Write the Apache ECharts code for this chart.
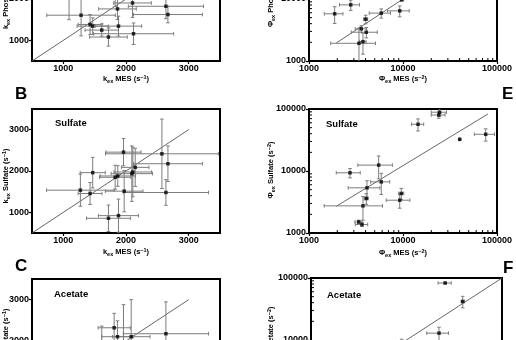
<!DOCTYPE html>
<html><head><meta charset="utf-8">
<script src="https://cdn.jsdelivr.net/npm/echarts@6/dist/echarts.min.js"></script>
<style>html,body{margin:0;padding:0;background:#fff}#c{width:516px;height:340px}</style>
</head><body><div id="c"></div>
<script>
// ---------- tick labels ----------
const linTicks = [1000, 2000, 3000];
const logTicks = [1000, 10000, 100000];
const logMinor = [2000,3000,4000,5000,6000,7000,8000,9000,20000,30000,40000,50000,60000,70000,80000,90000];

// ---------- Panel A : k_ex Phosphate vs k_ex MES ----------
const aX    = [1091, 1283, 1427, 1469, 1613, 1720, 1827, 1864, 1880, 2104, 2120, 2637, 2669];
const aY    = [2300, 1608, 1384, 1344, 1248, 1080, 2200, 1760, 1344, 1904, 1160, 1824, 1624];
const aXErr = [300, 547, 190, 250, 267, 300, 300, 300, 370, 300, 640, 600, 550];
const aYErr = [800, 500, 240, 200, 150, 220, 380, 256, 240, 350, 260, 300, 200];
const lineA = [[500, 500], [3000, 3000]];

// ---------- Panel B : Sulfate (linear) ----------
const bX    = [1272, 1427, 1469, 1827, 1869, 1960, 1971, 2093, 2109, 2147, 2573, 2669, 2637, 1720, 1880];
const bY    = [1536, 1456, 1960, 1848, 1880, 2456, 1512, 1936, 1976, 2088, 2416, 2176, 1480, 856, 920];
const bXErr = [540, 190, 200, 250, 280, 280, 300, 330, 300, 220, 900, 550, 680, 350, 320];
const bYErr = [390, 265, 370, 290, 250, 330, 500, 670, 600, 460, 840, 430, 310, 320, 400];
const lineB = [[500, 500], [3000, 3000]];

// ---------- Panel C : Acetate (linear) ----------
const cX    = [1613, 1811, 1864, 1960, 2083, 2637];
const cY    = [1800, 2320, 2104, 1750, 2104, 2176];
const cXErr = [250, 256, 250, 300, 300, 680];
const cYErr = [560, 350, 384, 1130, 896, 770];
const lineC = [[500, 500], [3000, 3000]];

// ---------- Panel D : Phi_ex Phosphate (log) ----------
const dX    = [1875, 2780, 9700, 4010, 5870, 9230, 3600, 4070, 3400, 3750];
const dY    = [5770, 8050, 9800, 4730, 5920, 6440, 3300, 2910, 1930, 2050];
const dXErr = [420, 670, 300, 200, 1500, 2400, 500, 1250, 1700, 300];
const dYErr = [1750, 1500, 600, 750, 1000, 1280, 400, 550, 1450, 760];
const lineD = [[1950, 1950], [80000, 80000]];

// ---------- Panel E : Phi_ex Sulfate (log) ----------
const eX    = [24500, 24000, 14450, 40100, 75800, 5510, 2730, 4140, 5870, 4070, 9590, 9230, 3750, 3380, 3660];
const eY    = [88700, 80000, 56700, 32400, 39100, 12450, 9350, 5350, 6680, 3600, 4340, 3380, 2740, 1510, 1370];
const eXErr = [4500, 4000, 2150, 0, 18400, 2200, 780, 1530, 1350, 200, 600, 2600, 2300, 300, 550];
const eYErr = [12000, 9000, 12500, 0, 8800, 5000, 1600, 1600, 2500, 700, 900, 870, 1130, 100, 100];
const lineE = [[1950, 2700], [80000, 83000]];

// ---------- Panel F : Phi_ex Acetate (log) ----------
const fX    = [25400, 38800, 21900, 8900];
const fY    = [83000, 41800, 12900, 8500];
const fXErr = [4000, 1500, 5600, 800];
const fYErr = [2000, 8800, 3200, 1800];
const lineF = [[2000, 2000], [100000, 100000]];

// ---------- texts ----------
const panelLetters = ['B', 'C', 'E', 'F'];
const anionNames = ['Sulfate', 'Acetate'];

const FF = 'Liberation Sans, Arial, Helvetica, sans-serif';
const panels = [
  {x:aX, y:aY, xe:aXErr, ye:aYErr, line:lineA, log:false},
  {x:bX, y:bY, xe:bXErr, ye:bYErr, line:lineB, log:false},
  {x:cX, y:cY, xe:cXErr, ye:cYErr, line:lineC, log:false},
  {x:dX, y:dY, xe:dXErr, ye:dYErr, line:lineD, log:true},
  {x:eX, y:eY, xe:eXErr, ye:eYErr, line:lineE, log:true},
  {x:fX, y:fY, xe:fXErr, ye:fYErr, line:lineF, log:true}
];
const gridPos = [
  {left:32, top:-63, width:188, height:124},
  {left:32, top:109, width:188, height:124},
  {left:32, top:279, width:188, height:124},
  {left:309, top:-63, width:188, height:124},
  {left:309, top:109, width:188, height:124},
  {left:311, top:278, width:191, height:124}
];

const labelStyle = {color:'#000', fontWeight:'bold', fontSize:9, fontFamily:FF, margin:3};
function makeAxis(gi, log) {
  const base = {
    gridIndex: gi,
    axisLine: {show:true, onZero:false, lineStyle:{color:'#000', width:2}},
    axisTick: {show:true, inside:false, length:3, lineStyle:{color:'#000', width:1.2}},
    splitLine: {show:false},
    minorTick: {show:false}
  };
  if (log) {
    return Object.assign(base, {type:'log', logBase:10, min:logTicks[0], max:logTicks[logTicks.length-1],
      axisLabel: Object.assign({formatter: v => String(Math.round(v))}, labelStyle)});
  }
  base.axisTick.customValues = linTicks;
  return Object.assign(base, {type:'value', min:500, max:3500,
    axisLabel: Object.assign({customValues: linTicks, formatter: v => String(v)}, labelStyle)});
}

function errRender(params, api) {
  const cs = params.coordSys;
  const x = api.value(0), y = api.value(1), ex = api.value(2), ey = api.value(3);
  const lo = (v, e) => (v - e > 0 ? v - e : v * 0.001);
  const p = api.coord([x, y]);
  const xl = api.coord([lo(x, ex), y]), xh = api.coord([x + ex, y]);
  const yl = api.coord([x, lo(y, ey)]), yh = api.coord([x, y + ey]);
  const cap = 1.8;
  const st = {stroke:'#7d7d7d', lineWidth:1};
  const L = (x1, y1, x2, y2) => ({type:'line', shape:{x1, y1, x2, y2}, style:st});
  return {
    type:'group',
    clipPath:{type:'rect', shape:{x:cs.x, y:cs.y, width:cs.width, height:cs.height}},
    children:[
      L(xl[0], p[1], xh[0], p[1]), L(xl[0], p[1]-cap, xl[0], p[1]+cap), L(xh[0], p[1]-cap, xh[0], p[1]+cap),
      L(p[0], yl[1], p[0], yh[1]), L(p[0]-cap, yl[1], p[0]+cap, yl[1]), L(p[0]-cap, yh[1], p[0]+cap, yh[1])
    ]
  };
}
function minorX(params, api) {
  const p = api.coord([api.value(0), api.value(1)]);
  return {type:'line', shape:{x1:p[0], y1:p[1], x2:p[0], y2:p[1]-3}, style:{stroke:'#000', lineWidth:1}};
}
function minorY(params, api) {
  const p = api.coord([api.value(0), api.value(1)]);
  return {type:'line', shape:{x1:p[0], y1:p[1], x2:p[0]+3, y2:p[1]}, style:{stroke:'#000', lineWidth:1}};
}

const grid = [], xAxis = [], yAxis = [], series = [];
panels.forEach((pn, i) => {
  grid.push(Object.assign({show:true, borderColor:'#000', borderWidth:2, backgroundColor:'transparent',
    containLabel:false, outerBoundsMode:'none'}, gridPos[i]));
  xAxis.push(makeAxis(i, pn.log));
  yAxis.push(makeAxis(i, pn.log));
  series.push({type:'line', xAxisIndex:i, yAxisIndex:i, data:pn.line, symbol:'none', silent:true,
    lineStyle:{color:'#555', width:0.9}, z:2, animation:false});
  series.push({type:'custom', xAxisIndex:i, yAxisIndex:i, renderItem:errRender, clip:true, silent:true, z:3,
    data: pn.x.map((v, k) => [v, pn.y[k], pn.xe[k], pn.ye[k]]), animation:false});
  series.push({type:'scatter', xAxisIndex:i, yAxisIndex:i, symbol:'rect', symbolSize:3.5, silent:true, z:4,
    itemStyle:{color:'#000'}, data: pn.x.map((v, k) => [v, pn.y[k]]), animation:false});
  if (pn.log) {
    series.push({type:'custom', xAxisIndex:i, yAxisIndex:i, renderItem:minorX, silent:true, z:5, animation:false,
      data: logMinor.map(v => [v, logTicks[0]])});
    series.push({type:'custom', xAxisIndex:i, yAxisIndex:i, renderItem:minorY, silent:true, z:5, animation:false,
      data: logMinor.map(v => [logTicks[0], v])});
  }
});

const rich = {
  b:{fontSize:7.5, fontWeight:'bold', fontFamily:FF, lineHeight:10, fill:'#000'},
  s:{fontSize:5.5, fontWeight:'bold', fontFamily:FF, lineHeight:5, verticalAlign:'bottom', fill:'#000'},
  p:{fontSize:5.5, fontWeight:'bold', fontFamily:FF, lineHeight:5, verticalAlign:'top', fill:'#000'}
};
function title(sym, name, pow) {
  return '{b|' + sym + '}{s|ex}{b| ' + name + ' (s}{p|\u2212' + pow + '}{b|)}';
}
function txt(x, y, text, rot) {
  return {type:'text', x, y, rotation: rot ? Math.PI/2 : 0, silent:true, z:10,
    style:{text, rich, align:'center', verticalAlign:'middle', textAlign:'center', textVerticalAlign:'middle', fill:'#000', fontSize:7.5, fontWeight:'bold', fontFamily:FF}};
}
function big(x, y, t) {
  return {type:'text', x, y, silent:true, z:10,
    style:{text:t, align:'left', verticalAlign:'middle', fill:'#000', fontSize:17, fontWeight:'bold', fontFamily:FF}};
}
function inner(x, y, t) {
  return {type:'text', x, y, silent:true, z:10,
    style:{text:t, align:'left', verticalAlign:'middle', fill:'#000', fontSize:9.5, fontWeight:'bold', fontFamily:FF}};
}
const graphic = [
  txt(126, 79, title('k', 'MES', 1)),
  txt(126, 252, title('k', 'MES', 1)),
  txt(403, 79, title('\u03A6', 'MES', 2)),
  txt(403, 253, title('\u03A6', 'MES', 2)),
  txt(6, -5, title('k', 'Phosphate', 1), true),
  txt(6, 176, title('k', anionNames[0], 1), true),
  txt(6, 337, title('k', anionNames[1], 1), true),
  txt(271, -8, title('\u03A6', 'Phosphate', 2), true),
  txt(271, 170, title('\u03A6', anionNames[0], 2), true),
  txt(271, 336, title('\u03A6', anionNames[1], 2), true),
  big(15, 94, panelLetters[0]),
  big(15, 266, panelLetters[1]),
  big(502, 94, panelLetters[2]),
  big(503, 268, panelLetters[3]),
  inner(55, 123, anionNames[0]),
  inner(54, 294.5, anionNames[1]),
  inner(326, 124, anionNames[0]),
  inner(327, 295, anionNames[1])
];

const chart = echarts.init(document.getElementById('c'), null, {renderer:'canvas'});
chart.setOption({animation:false, backgroundColor:'#fff', grid, xAxis, yAxis, series, graphic});
</script>
</body></html>
